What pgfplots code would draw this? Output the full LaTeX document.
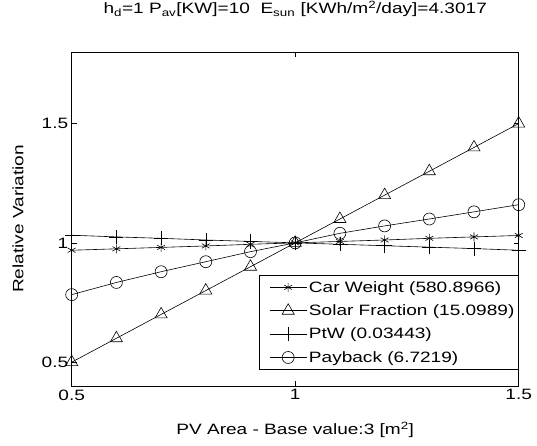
\documentclass[border=0pt]{standalone}
\usepackage{fontspec}
\setmainfont{Liberation Sans}[FakeStretch=1.27]
\usepackage{pgfplots}
\pgfplotsset{compat=1.18}

\begin{document}
\begin{tikzpicture}
\useasboundingbox (-71.7pt,-59pt) rectangle (465.3pt,386pt);
\begin{axis}[
    width=447pt, height=334pt, scale only axis,
    xmin=0.5, xmax=1.5, ymin=0.4, ymax=1.8,
    xtick={0.5,1,1.5}, ytick={0.5,1,1.5},
    xticklabels={0.5,1,1.5}, yticklabels={0.5,1,1.5},
    tick align=inside, major tick length=5pt,
    tick style={black, line width=0.6pt},
    axis line style={black, line width=0.8pt},
    tick label style={font=\fontsize{15}{17}\selectfont},
    label style={font=\fontsize{15}{17}\selectfont},
    title style={font=\fontsize{15}{17}\selectfont,
                 at={(axis description cs:0.5,1.11)}, anchor=center},
    title={h\textsubscript{d}=1 P\textsubscript{av}[KW]=10\ \ E\textsubscript{sun} [KWh/m\textsuperscript{2}/day]=4.3017},
    xlabel={PV Area - Base value:3 [m\textsuperscript{2}]},
    ylabel={Relative Variation},
    xlabel style={at={(axis description cs:0.5,-0.132)}, anchor=center},
    ylabel style={at={(axis description cs:-0.12,0.5)}, anchor=center},
    legend style={at={(1,0.048)}, anchor=south east, draw=black, line width=0.6pt,
                  fill=white, font=\fontsize{15}{17}\selectfont,
                  row sep=7pt, inner xsep=2pt, inner ysep=4pt},
    legend cell align=left,
    legend image code/.code={\path (0pt,0pt) (42pt,0pt);
        \draw[mark repeat=2, mark phase=2, #1]
        plot coordinates {(8pt,0pt) (26.5pt,0pt) (45pt,0pt)};},
    every axis plot/.append style={black, line width=0.6pt},
]
\addplot[mark=asterisk, mark size=4.5pt] coordinates {
  (0.5,0.969) (0.6,0.975) (0.7,0.981) (0.8,0.987) (0.9,0.994) (1.0,1.000)
  (1.1,1.006) (1.2,1.012) (1.3,1.019) (1.4,1.025) (1.5,1.031)};
\addlegendentry{Car Weight (580.8966)}
\addplot[mark=triangle, mark size=7pt] coordinates {
  (0.5,0.5) (0.6,0.6) (0.7,0.7) (0.8,0.8) (0.9,0.9) (1.0,1.0)
  (1.1,1.1) (1.2,1.2) (1.3,1.3) (1.4,1.4) (1.5,1.5)};
\addlegendentry{Solar Fraction (15.0989)}
\addplot[mark=+, mark size=7pt] coordinates {
  (0.5,1.032) (0.6,1.025) (0.7,1.019) (0.8,1.012) (0.9,1.006) (1.0,1.000)
  (1.1,0.994) (1.2,0.988) (1.3,0.982) (1.4,0.976) (1.5,0.969)};
\addlegendentry{PtW (0.03443)}
\addplot[mark=o, mark size=6pt] coordinates {
  (0.5,0.783) (0.6,0.834) (0.7,0.879) (0.8,0.921) (0.9,0.963) (1.0,1.000)
  (1.1,1.040) (1.2,1.071) (1.3,1.100) (1.4,1.130) (1.5,1.160)};
\addlegendentry{Payback (6.7219)}
\end{axis}
\end{tikzpicture}
\end{document}
